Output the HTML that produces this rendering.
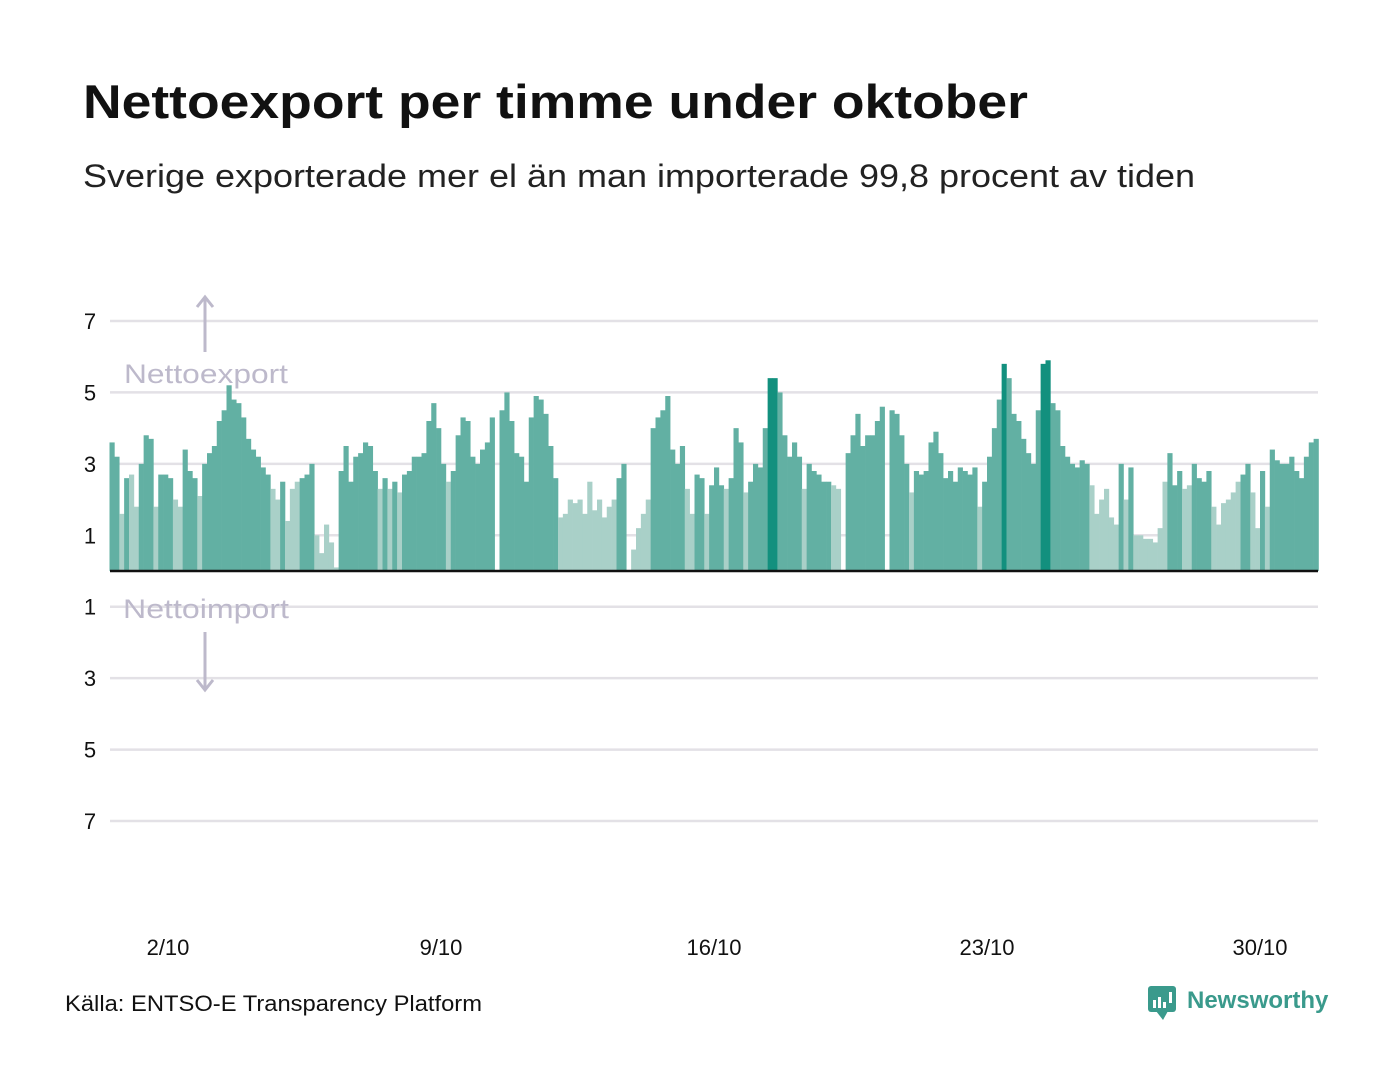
<!DOCTYPE html>
<html><head><meta charset="utf-8"><style>
body{margin:0;background:#fff;width:1400px;height:1080px;overflow:hidden;font-family:"Liberation Sans","DejaVu Sans",sans-serif;}
</style></head><body>
<svg width="1400" height="1080" viewBox="0 0 1400 1080" xmlns="http://www.w3.org/2000/svg">
<text x="83" y="118" font-size="47" font-weight="bold" fill="#111" textLength="945" lengthAdjust="spacingAndGlyphs" font-family="Liberation Sans, sans-serif">Nettoexport per timme under oktober</text>
<text x="83" y="187" font-size="32" fill="#222" textLength="1112" lengthAdjust="spacingAndGlyphs" font-family="Liberation Sans, sans-serif">Sverige exporterade mer el än man importerade 99,8 procent av tiden</text>
<g id="grid"></g>
<g id="yticks"></g>
<g id="bars"></g>
<line x1="110" x2="1318" y1="571" y2="571" stroke="#111" stroke-width="2.5"/>
<g id="xticks"></g>
<g>
<line x1="205" y1="298" x2="205" y2="352" stroke="#bdb9cb" stroke-width="3"/>
<polyline points="197,307 205,297 213,307" fill="none" stroke="#bdb9cb" stroke-width="3"/>
<text x="124" y="383" font-size="27" fill="#bdb9cb" textLength="164" lengthAdjust="spacingAndGlyphs" font-family="Liberation Sans, sans-serif">Nettoexport</text>
</g>
<g>
<text x="123" y="618" font-size="27" fill="#bdb9cb" textLength="166" lengthAdjust="spacingAndGlyphs" font-family="Liberation Sans, sans-serif">Nettoimport</text>
<line x1="205" y1="632" x2="205" y2="688" stroke="#bdb9cb" stroke-width="3"/>
<polyline points="197,680 205,690 213,680" fill="none" stroke="#bdb9cb" stroke-width="3"/>
</g>
<text x="65" y="1011" font-size="22" fill="#111" textLength="417" lengthAdjust="spacingAndGlyphs" font-family="Liberation Sans, sans-serif">Källa: ENTSO-E Transparency Platform</text>
<g>
<rect x="1148" y="986" width="28" height="26" rx="3" fill="#3a9a8c"/>
<polygon points="1156,1011 1163,1020 1168,1011" fill="#3a9a8c"/>
<rect x="1153" y="1000" width="3" height="8" fill="#fff"/><rect x="1158" y="997" width="3" height="11" fill="#fff"/><rect x="1163" y="1002" width="3" height="6" fill="#fff"/><rect x="1169" y="992" width="3" height="11" fill="#fff"/>
<text x="1187" y="1008" font-size="24" font-weight="bold" fill="#3a9a8c" font-family="Liberation Sans, sans-serif">Newsworthy</text>
</g>
</svg>
<script>
// Net export per 3-hour bin (GW), 8 bins per day, 1–31 Oct
const values = [
3.6,3.2,1.6,2.6,2.7,1.8,3.0,3.8,
3.7,1.8,2.7,2.7,2.6,2.0,1.8,3.4,
2.8,2.6,2.1,3.0,3.3,3.5,4.2,4.5,
5.2,4.8,4.7,4.3,3.7,3.4,3.2,2.9,
2.7,2.3,2.0,2.5,1.4,2.3,2.5,2.6,
2.7,3.0,1.0,0.5,1.3,0.8,0.1,2.8,
3.5,2.5,3.2,3.3,3.6,3.5,2.8,2.3,
2.6,2.3,2.5,2.2,2.7,2.8,3.2,3.2,
3.3,4.2,4.7,4.0,3.0,2.5,2.8,3.8,
4.3,4.2,3.2,3.0,3.4,3.6,4.3,0,
4.5,5.0,4.2,3.3,3.2,2.5,4.3,4.9,
4.8,4.4,3.5,2.6,1.5,1.6,2.0,1.9,
2.0,1.6,2.5,1.7,2.0,1.5,1.8,2.0,
2.6,3.0,0,0.6,1.2,1.6,2.0,4.0,
4.3,4.5,4.9,3.4,3.0,3.5,2.3,1.6,
2.7,2.6,1.6,2.4,2.9,2.4,2.3,2.6,
4.0,3.6,2.2,2.5,3.0,2.9,4.0,5.4,
5.4,5.0,3.8,3.2,3.6,3.2,2.3,3.0,
2.8,2.7,2.5,2.5,2.4,2.3,0,3.3,
3.8,4.4,3.5,3.8,3.8,4.2,4.6,0,
4.5,4.4,3.8,3.0,2.2,2.8,2.7,2.8,
3.6,3.9,3.3,2.6,2.8,2.5,2.9,2.8,
2.7,2.9,1.8,2.5,3.2,4.0,4.8,5.8,
5.4,4.4,4.2,3.7,3.3,3.0,4.5,5.8,
5.9,4.7,4.5,3.5,3.2,3.0,2.9,3.1,
3.0,2.4,1.6,2.0,2.3,1.5,1.3,3.0,
2.0,2.9,1.0,1.0,0.9,0.9,0.8,1.2,
2.5,3.3,2.4,2.8,2.3,2.4,3.0,2.6,
2.5,2.8,1.8,1.3,1.9,2.0,2.2,2.5,
2.7,3.0,2.2,1.2,2.8,1.8,3.4,3.1,
3.0,3.0,3.2,2.8,2.6,3.2,3.6,3.7];
// shade category per day: 0 light, 1 mid, 2 dark
const shadeDays = ["11010011","10111001","11011111","11111111","10010001","11000001","11111110","10101111",
"11111011","11111111","11111111","11110000","00000000","11000001","11111100","11011101",
"11011112","21111101","11110001","11111111","11110111","11111111","11011112","11111112",
"21111111","10000001","01000000","01110011","11000000","11001011","11111111"];
const shades = shadeDays.join('').split('').map(Number);
const yTicks = [7,5,3,1,-1,-3,-5,-7];
const yTickLabels = ["7","5","3","1","1","3","5","7"];
const xTickDays = [2,9,16,23,30];
const xTickLabels = ["2/10","9/10","16/10","23/10","30/10"];

const NS="http://www.w3.org/2000/svg";
const x0=109.5, dayW=39, binsPerDay=8;
const yScale=v=>571 - v*250/7;
const xBin=i=>x0 + i*dayW/binsPerDay;
const xDayNoon=d=>x0 + (d-1)*dayW + dayW/2;
const colors=["#a9d0c8","#62b0a3","#12907e"];

const grid=document.getElementById('grid'), yt=document.getElementById('yticks');
yTicks.forEach((t,i)=>{
  const l=document.createElementNS(NS,'line');
  l.setAttribute('x1',110);l.setAttribute('x2',1318);
  l.setAttribute('y1',yScale(t));l.setAttribute('y2',yScale(t));
  l.setAttribute('stroke','#e3e1e6');l.setAttribute('stroke-width','2.5');
  
  
  grid.appendChild(l);
  const tx=document.createElementNS(NS,'text');
  tx.setAttribute('x',90);tx.setAttribute('y',yScale(t)+8);
  tx.setAttribute('text-anchor','middle');tx.setAttribute('font-size','22');tx.setAttribute('fill','#111');
  tx.textContent=yTickLabels[i];
  
  
  yt.appendChild(tx);
});
const bars=document.getElementById('bars');
const bw=dayW/binsPerDay;
values.forEach((v,i)=>{
  if(v<=0) return;
  const r=document.createElementNS(NS,'rect');
  r.setAttribute('x',xBin(i));r.setAttribute('width',bw+0.3);
  r.setAttribute('y',yScale(v));r.setAttribute('height',571-yScale(v));
  r.setAttribute('fill',colors[shades[i]]);
  
  
  bars.appendChild(r);
});
const xt=document.getElementById('xticks');
xTickDays.forEach((d,i)=>{
  const tx=document.createElementNS(NS,'text');
  tx.setAttribute('x',xDayNoon(d));tx.setAttribute('y',955);
  tx.setAttribute('text-anchor','middle');tx.setAttribute('font-size','22');tx.setAttribute('fill','#111');
  tx.textContent=xTickLabels[i];
  
  
  xt.appendChild(tx);
});
</script>
</body></html>
